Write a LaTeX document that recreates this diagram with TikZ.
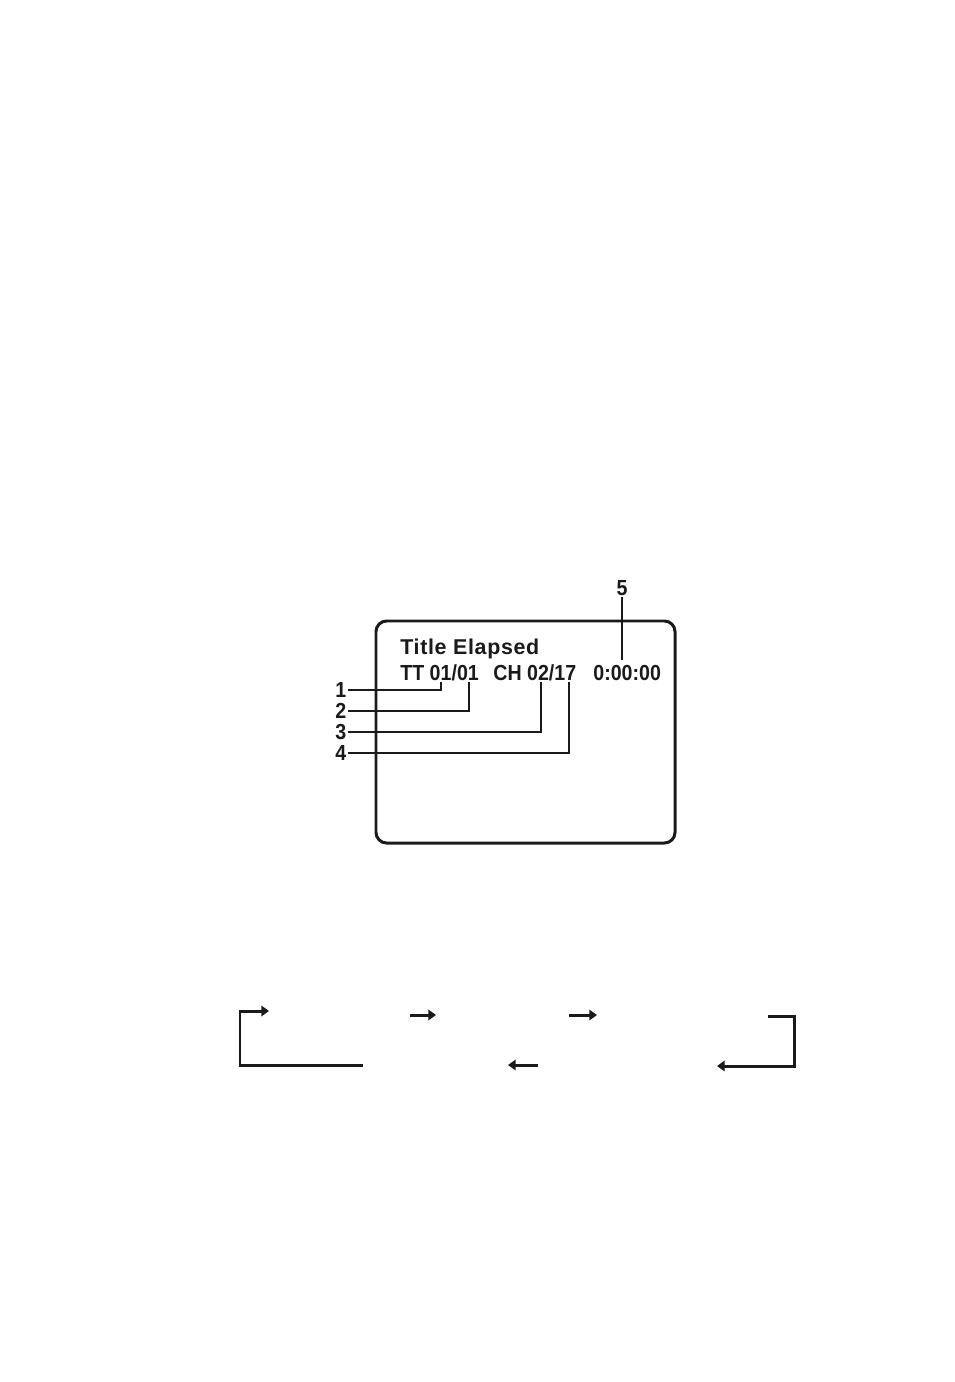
\documentclass[tikz,border=0pt]{standalone}
\usepackage{fontspec}
\setmainfont{Liberation Sans}
\newfontfamily\lblfont[FakeStretch=0.9]{Liberation Sans Bold}
\newfontfamily\titlefont[LetterSpace=3.0]{Liberation Sans Bold}
\usetikzlibrary{arrows.meta}
\definecolor{ink}{HTML}{1A1A1A}
\tikzset{
  screenbox/.style={draw=ink, line width=1.7pt, rounded corners=6pt},
  screentext/.style={anchor=base west, inner sep=0pt, text=ink, font=\lblfont\fontsize{12.4}{14}\selectfont},
  titletext/.style={anchor=base west, inner sep=0pt, text=ink, font=\titlefont\fontsize{12.2}{14}\selectfont},
  numlbl/.style={inner sep=0pt, outer sep=1pt, text=ink, font=\lblfont\fontsize{12.4}{14}\selectfont},
  leader/.style={draw=ink, line width=1.1pt},
  flowarrow/.style={draw=ink, line width=1.7pt, -{Triangle[length=4.4pt,width=6pt]}}
}
\begin{document}
\begin{tikzpicture}[x=0.02cm,y=-0.02cm]
\useasboundingbox (0,0) rectangle (954,1382);
% screen
\draw[screenbox] (376,621) rectangle (675,843);
\node[titletext] (title) at (400,654) {Title Elapsed};
\node[screentext] (tt) at (400,680) {TT 01/01};
\node[screentext] (ch) at (493,680) {CH 02/17};
\node[screentext] (tm) at (593,680) {0:00:00};
% callout numbers
\node[numlbl, anchor=east] (n1) at (348,690) {1};
\node[numlbl, anchor=east] (n2) at (348,711) {2};
\node[numlbl, anchor=east] (n3) at (348,732) {3};
\node[numlbl, anchor=east] (n4) at (348,753) {4};
\node[numlbl, anchor=south] (n5) at (622,597) {5};
\coordinate (c1) at (441,682);
\coordinate (c2) at (469,682);
\coordinate (c3) at (541,682);
\coordinate (c4) at (569,682);
\coordinate (c5) at (622,660);
\draw[leader] (n1.east) -| (c1);
\draw[leader] (n2.east) -| (c2);
\draw[leader] (n3.east) -| (c3);
\draw[leader] (n4.east) -| (c4);
\draw[leader] (n5.south) -- (c5);
% flow
\coordinate (la) at (363,1065);
\coordinate (lb) at (240,1065);
\coordinate (lc) at (240,1011);
\coordinate (ld) at (269,1011);
\draw[flowarrow] (la) -- (lb) -- (lc) -- (ld);
\coordinate (a1s) at (410,1015);
\coordinate (a1e) at (436,1015);
\draw[flowarrow] (a1s) -- (a1e);
\coordinate (a2s) at (569,1015);
\coordinate (a2e) at (597,1015);
\draw[flowarrow] (a2s) -- (a2e);
\coordinate (a3s) at (538,1065);
\coordinate (a3e) at (508,1065);
\draw[flowarrow] (a3s) -- (a3e);
\coordinate (ra) at (768,1016);
\coordinate (rb) at (794,1016);
\coordinate (rc) at (794,1066);
\coordinate (rd) at (717,1066);
\draw[flowarrow] (ra) -- (rb) -- (rc) -- (rd);
\end{tikzpicture}
\end{document}
